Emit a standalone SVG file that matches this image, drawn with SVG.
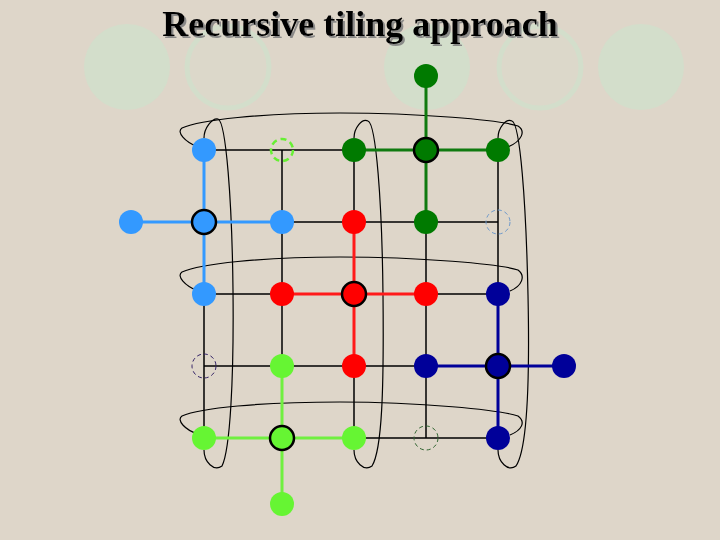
<svg xmlns="http://www.w3.org/2000/svg" width="720" height="540" viewBox="0 0 720 540">
<defs>
<filter id="shadow" x="-5%" y="-20%" width="110%" height="150%">
<feDropShadow dx="2" dy="2" stdDeviation="0.6" flood-color="#808080" flood-opacity="0.9"/>
</filter>
</defs>
<style>
.deco{fill:#D3DECB}
.ring{fill:#D9DCCB;fill-opacity:0.35;stroke:#D3DECB;stroke-width:5}
.title{font-family:"Liberation Serif","Times New Roman",serif;font-weight:bold;font-size:36px;text-anchor:middle}
.loop{fill:none;stroke:#000;stroke-width:1.2}
.e{stroke:#000;stroke-width:1.5;fill:none}
.eb{stroke:#3399FF;stroke-width:3;fill:none}
.eg{stroke:#0F7A0F;stroke-width:3;fill:none}
.er{stroke:#FF1A1A;stroke-width:3;fill:none}
.ed{stroke:#000099;stroke-width:3;fill:none}
.el{stroke:#70F040;stroke-width:3;fill:none}
.nb{fill:#3399FF}
.ng{fill:#007A00}
.nr{fill:#FF0000}
.nd{fill:#000099}
.nl{fill:#66F533}
.bold{stroke:#000;stroke-width:2.5}
</style>
<rect width="720" height="540" fill="#DED6C9"/>
<g id="decor">
<circle class="deco" cx="127" cy="67" r="43"/>
<circle class="ring" cx="228" cy="67" r="41"/>
<circle class="deco" cx="427" cy="67" r="43"/>
<circle class="ring" cx="540" cy="67" r="41"/>
<circle class="deco" cx="641" cy="67" r="43"/>
</g>
<g id="title">
<text class="title" x="360" y="36" fill="#000" filter="url(#shadow)">Recursive tiling approach</text>
</g>
<g id="loops">
<path class="loop" d="M198 147 C185 142,176 132,182 128 C200 120,260 113,340 113 C420 113,500 120,518 126 C526 131,522 141,508 147"/>
<path class="loop" d="M198 291 C185 286,176 276,182 272 C200 264,260 257,340 257 C420 257,500 264,518 270 C526 276,522 286,510 291"/>
<path class="loop" d="M198 434 C185 430,176 420,182 416 C200 408,260 402,340 402 C420 402,500 410,518 416 C526 422,522 430,510 435"/>
<path class="loop" d="M204 138 C204 128,212 118,218 119 C226 122,232 200,233 290 C234 380,230 450,222 466 C214 472,204 462,204 450"/>
<path class="loop" d="M354 138 C354 128,362 118,368 121 C376 124,382 200,383 295 C384 390,382 450,372 466 C364 472,354 462,354 450"/>
<path class="loop" d="M498 138 C498 128,506 118,512 121 C520 124,526 200,528 295 C530 390,527 450,516 466 C508 472,498 462,498 450"/>
</g>
<g id="connectors">
<path class="e" d="M204 150H354 M282 222H498 M204 294H282 M426 294H498 M204 366H426 M354 438H498"/>
<path class="e" d="M204 294V438 M282 150V366 M354 150V222 M354 366V438 M426 222V438 M498 150V294"/>
<path class="eb" d="M204 150V294 M131 222H282"/>
<path class="eg" d="M426 76V222 M354 150H498"/>
<path class="er" d="M354 222V366 M282 294H426"/>
<path class="ed" d="M498 294V438 M426 366H564"/>
<path class="el" d="M282 366V504 M204 438H354"/>
</g>
<g id="n-0-0"><circle class="nb" cx="204" cy="150" r="12"/></g>
<g id="n-0-1"><circle cx="282" cy="150" r="11" fill="none" stroke="#66F033" stroke-width="2.5" stroke-dasharray="6 4"/></g>
<g id="n-0-2"><circle class="ng" cx="354" cy="150" r="12"/></g>
<g id="n-0-3"><circle class="ng bold" cx="426" cy="150" r="12"/></g>
<g id="n-0-4"><circle class="ng" cx="498" cy="150" r="12"/></g>
<g id="n-1-0"><circle class="nb bold" cx="204" cy="222" r="12"/></g>
<g id="n-1-1"><circle class="nb" cx="282" cy="222" r="12"/></g>
<g id="n-1-2"><circle class="nr" cx="354" cy="222" r="12"/></g>
<g id="n-1-3"><circle class="ng" cx="426" cy="222" r="12"/></g>
<g id="n-1-4"><circle cx="498" cy="222" r="12" fill="none" stroke="#6F9ACB" stroke-width="1" stroke-dasharray="4 3"/></g>
<g id="n-2-0"><circle class="nb" cx="204" cy="294" r="12"/></g>
<g id="n-2-1"><circle class="nr" cx="282" cy="294" r="12"/></g>
<g id="n-2-2"><circle class="nr bold" cx="354" cy="294" r="12"/></g>
<g id="n-2-3"><circle class="nr" cx="426" cy="294" r="12"/></g>
<g id="n-2-4"><circle class="nd" cx="498" cy="294" r="12"/></g>
<g id="n-3-0"><circle cx="204" cy="366" r="12" fill="none" stroke="#332266" stroke-width="1" stroke-dasharray="4 3"/></g>
<g id="n-3-1"><circle class="nl" cx="282" cy="366" r="12"/></g>
<g id="n-3-2"><circle class="nr" cx="354" cy="366" r="12"/></g>
<g id="n-3-3"><circle class="nd" cx="426" cy="366" r="12"/></g>
<g id="n-3-4"><circle class="nd bold" cx="498" cy="366" r="12"/></g>
<g id="n-4-0"><circle class="nl" cx="204" cy="438" r="12"/></g>
<g id="n-4-1"><circle class="nl bold" cx="282" cy="438" r="12"/></g>
<g id="n-4-2"><circle class="nl" cx="354" cy="438" r="12"/></g>
<g id="n-4-3"><circle cx="426" cy="438" r="12" fill="none" stroke="#336633" stroke-width="1" stroke-dasharray="4 3"/></g>
<g id="n-4-4"><circle class="nd" cx="498" cy="438" r="12"/></g>
<g id="n-top"><circle class="ng" cx="426" cy="76" r="12"/></g>
<g id="n-left"><circle class="nb" cx="131" cy="222" r="12"/></g>
<g id="n-right"><circle class="nd" cx="564" cy="366" r="12"/></g>
<g id="n-bottom"><circle class="nl" cx="282" cy="504" r="12"/></g>
</svg>
